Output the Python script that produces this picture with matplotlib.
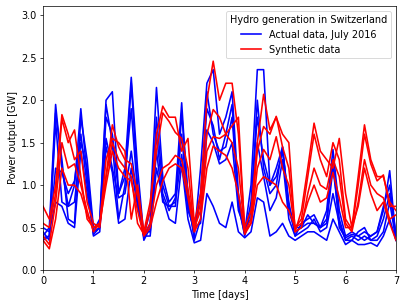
import numpy as np
import matplotlib
matplotlib.use("Agg")
import matplotlib.pyplot as plt

# ==============================
# DATA (GW, sampled every 3 hours, 8 samples per day + end point)
# ==============================
actual_1 = [0.40, 0.50, 1.95, 1.20, 0.75, 1.00, 1.90, 1.10,
            0.45, 0.60, 2.00, 2.10, 0.90, 1.20, 2.27, 1.20,
            0.40, 0.70, 2.15, 1.10, 0.80, 0.90, 1.97, 0.80,
            0.40, 1.20, 2.20, 2.36, 1.60, 1.80, 2.10, 0.90,
            0.45, 1.00, 2.36, 2.36, 1.00, 1.10, 1.40, 0.80,
            0.40, 0.55, 0.60, 0.65, 0.50, 0.70, 1.42, 0.70,
            0.40, 0.45, 0.40, 0.45, 0.40, 0.45, 0.70, 1.17,
            0.35]
actual_2 = [0.35, 0.40, 1.85, 1.30, 0.60, 0.55, 1.80, 1.30,
            0.50, 0.55, 1.95, 1.50, 0.60, 1.00, 2.20, 1.00,
            0.35, 0.50, 1.80, 1.00, 0.75, 0.75, 1.85, 0.90,
            0.35, 0.60, 2.10, 1.60, 1.40, 1.45, 1.80, 0.80,
            0.40, 0.70, 2.00, 1.20, 0.90, 1.00, 1.45, 0.70,
            0.45, 0.50, 0.55, 0.55, 0.50, 0.55, 1.20, 0.60,
            0.35, 0.35, 0.45, 0.50, 0.35, 0.40, 0.60, 0.90,
            0.40]
actual_3 = [0.45, 0.35, 1.75, 0.80, 0.75, 0.80, 1.50, 1.20,
            0.40, 0.45, 1.55, 1.20, 0.85, 0.90, 1.40, 0.80,
            0.45, 0.45, 1.40, 0.80, 0.75, 0.80, 1.36, 0.70,
            0.50, 0.55, 1.65, 1.50, 1.25, 1.30, 1.50, 0.70,
            0.50, 0.60, 1.50, 1.10, 0.70, 0.85, 1.30, 0.60,
            0.40, 0.45, 0.50, 0.60, 0.45, 0.50, 0.90, 0.55,
            0.35, 0.40, 0.35, 0.40, 0.35, 0.35, 0.45, 0.80,
            0.35]
actual_4 = [0.50, 0.45, 0.80, 0.75, 0.55, 0.50, 1.40, 0.90,
            0.45, 0.50, 1.45, 1.15, 0.55, 0.60, 1.20, 0.75,
            0.40, 0.40, 1.20, 0.85, 0.60, 0.55, 1.25, 0.60,
            0.32, 0.35, 0.90, 0.75, 0.55, 0.50, 0.80, 0.45,
            0.38, 0.45, 0.85, 0.80, 0.40, 0.45, 0.55, 0.40,
            0.35, 0.40, 0.45, 0.45, 0.40, 0.35, 0.60, 0.45,
            0.30, 0.35, 0.30, 0.30, 0.32, 0.28, 0.40, 0.60,
            0.35]
actual_5 = [0.38, 0.40, 1.20, 1.15, 0.90, 1.05, 1.60, 1.00,
            0.42, 0.50, 1.80, 1.60, 0.90, 1.10, 1.90, 0.90,
            0.38, 0.55, 1.60, 0.90, 0.70, 0.85, 1.60, 0.75,
            0.45, 0.90, 1.90, 1.70, 1.30, 1.60, 1.95, 0.75,
            0.42, 0.80, 1.80, 1.30, 1.00, 1.20, 1.45, 0.75,
            0.50, 0.50, 0.65, 0.55, 0.50, 0.60, 1.30, 0.50,
            0.38, 0.42, 0.40, 0.35, 0.40, 0.45, 0.75, 1.00,
            0.40]

synthetic_1 = [0.75, 0.60, 1.00, 1.83, 1.60, 1.30, 1.40, 0.80,
               0.55, 0.50, 1.10, 1.71, 1.45, 1.30, 1.25, 0.90,
               0.42, 0.70, 1.60, 1.93, 1.80, 1.80, 1.40, 1.55,
               0.55, 0.90, 2.00, 2.46, 2.00, 2.20, 2.20, 1.60,
               0.50, 0.70, 1.50, 2.07, 1.65, 1.80, 1.60, 1.50,
               0.45, 0.70, 1.20, 1.73, 1.40, 1.30, 1.20, 1.55,
               0.90, 0.50, 1.10, 1.71, 1.30, 1.10, 1.10, 0.80,
               0.70]
synthetic_2 = [0.55, 0.50, 0.90, 1.78, 1.50, 1.65, 1.10, 0.60,
               0.50, 0.55, 1.30, 1.55, 1.50, 1.40, 0.60, 1.00,
               0.45, 0.80, 1.40, 1.85, 1.75, 1.62, 1.55, 1.20,
               0.45, 0.80, 1.60, 1.89, 1.80, 1.60, 1.70, 1.80,
               0.45, 0.60, 1.40, 1.69, 1.60, 1.81, 1.45, 1.20,
               0.50, 0.60, 1.10, 1.60, 1.30, 1.10, 1.50, 1.30,
               0.60, 0.48, 1.00, 1.60, 1.25, 1.05, 1.12, 0.75,
               0.75]
synthetic_3 = [0.40, 0.30, 0.80, 1.50, 1.20, 1.25, 1.00, 0.70,
               0.45, 0.55, 1.10, 1.50, 1.30, 1.20, 1.10, 0.55,
               0.42, 0.55, 1.00, 1.20, 1.25, 1.35, 1.30, 0.95,
               0.50, 0.70, 1.40, 1.57, 1.55, 1.60, 1.50, 1.20,
               0.45, 0.55, 1.20, 1.42, 1.30, 1.57, 1.20, 1.00,
               0.45, 0.50, 0.90, 1.20, 1.00, 0.95, 1.30, 1.10,
               0.55, 0.45, 0.80, 1.30, 1.00, 0.90, 0.85, 0.60,
               0.65]
synthetic_4 = [0.35, 0.25, 0.60, 1.20, 1.00, 1.00, 0.90, 0.65,
               0.50, 0.55, 1.00, 1.40, 1.20, 1.10, 1.05, 0.70,
               0.40, 0.50, 0.80, 1.05, 1.20, 1.25, 1.20, 0.85,
               0.45, 0.60, 1.20, 1.46, 1.40, 1.35, 1.20, 0.90,
               0.42, 0.55, 1.00, 1.10, 1.05, 1.00, 0.80, 0.70,
               0.50, 0.55, 0.80, 1.00, 0.80, 0.85, 1.15, 0.85,
               0.50, 0.50, 0.75, 1.20, 0.90, 0.70, 0.80, 0.55,
               0.35]

actual = [actual_1, actual_2, actual_3, actual_4, actual_5]
synthetic = [synthetic_1, synthetic_2, synthetic_3, synthetic_4]

# time axis in days
t = np.arange(len(actual_1)) / 8.0

# ==============================
# PLOT
# ==============================
plt.rcParams['font.size'] = 11

fig = plt.figure(figsize=(407 / 64, 308 / 64), dpi=64)
ax = fig.add_axes([43 / 407, 1 - 270 / 308, 353 / 407, 264 / 308])

for i, y in enumerate(actual):
    ax.plot(t, y, color='blue', lw=1.8, label='Actual data, July 2016' if i == 0 else None)
for i, y in enumerate(synthetic):
    ax.plot(t, y, color='red', lw=1.8, label='Synthetic data' if i == 0 else None)

ax.set_xlim(0, 7)
ax.set_ylim(0, 3.11)
ax.set_xlabel("Time [days]")
ax.set_ylabel("Power output [GW]")
ax.legend(title="Hydro generation in Switzerland", loc='upper right')

fig.savefig("out.png", dpi=64)
